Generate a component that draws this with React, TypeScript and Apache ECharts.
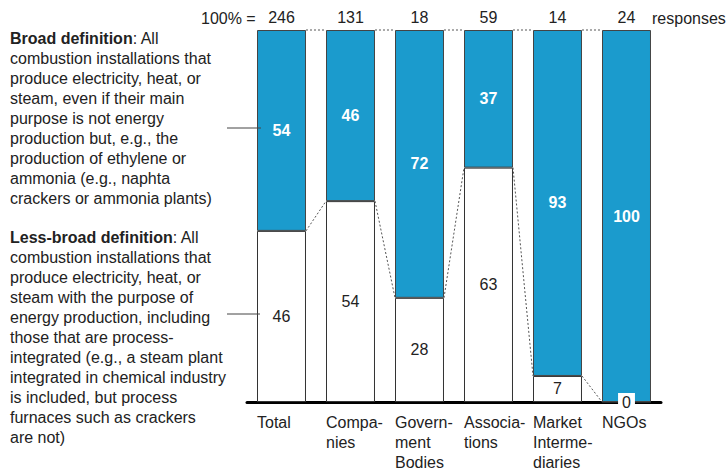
import React, { useEffect, useRef } from "react";
import * as echarts from "echarts";

const categories = ["Total", "Compa-\nnies", "Govern-\nment\nBodies", "Associa-\ntions", "Market\nInterme-\ndiaries", "NGOs"];
const responses = ["246", "131", "18", "59", "14", "24"];
const lessBroad = [46, 54, 28, 63, 7, 0];
const broad = [54, 46, 72, 37, 93, 100];

const FONT = "'Liberation Sans', Arial, Helvetica, sans-serif";
const BLUE = "#1b9bcd";
const BAR_RATIO = 0.71;
const FS = 16;

const broadText = [
  "{b|Broad definition}: All",
  "combustion installations that",
  "produce electricity, heat, or",
  "steam, even if their main",
  "purpose is not energy",
  "production but, e.g., the",
  "production of ethylene or",
  "ammonia (e.g., naphta",
  "crackers or ammonia plants)",
].join("\n");

const lessText = [
  "{b|Less-broad definition}: All",
  "combustion installations that",
  "produce electricity, heat, or",
  "steam with the purpose of",
  "energy production, including",
  "those that are process-",
  "integrated (e.g., a steam plant",
  "integrated in chemical industry",
  "is included, but process",
  "furnaces such as crackers",
  "are not)",
].join("\n");

export default function App() {
  const ref = useRef<HTMLDivElement>(null);
  useEffect(() => {
    const chart = echarts.init(ref.current!, undefined, { renderer: "svg" });

    const connectors: number[][] = [];
    for (let i = 0; i < categories.length - 1; i++) {
      connectors.push([i, 100, 100]);
      connectors.push([i, lessBroad[i], lessBroad[i + 1]]);
    }

    const textStyleBase = { fontFamily: FONT, fontSize: FS, fill: "#222", lineHeight: 20 };
    const boldRich = { b: { fontWeight: "bold", fontSize: FS, fontFamily: FONT, fill: "#222", lineHeight: 20 } };

    chart.setOption({
      animation: false,
      textStyle: { fontFamily: FONT },
      grid: { left: 247, right: 66, top: 30, bottom: 72 },
      xAxis: [
        {
          type: "category",
          data: categories,
          axisLine: { lineStyle: { color: "#000", width: 3 } },
          axisTick: { show: false },
          axisLabel: {
            interval: 0,
            margin: 10,
            fontFamily: FONT,
            fontSize: FS,
            color: "#222",
            lineHeight: 20,
            formatter: (v: string) => v.split("\n").map((s) => "{a|" + s + "}").join("\n"),
            rich: { a: { width: 49, align: "left", fontSize: FS, lineHeight: 20, color: "#222", fontFamily: FONT } },
          },
        },
        {
          type: "category",
          position: "top",
          data: responses,
          axisLine: { show: false },
          axisTick: { show: false },
          axisLabel: { interval: 0, margin: 5, fontFamily: FONT, fontSize: FS, color: "#222" },
        },
      ],
      yAxis: { type: "value", min: 0, max: 100, show: false, splitLine: { show: false } },
      series: [
        {
          type: "bar",
          stack: "s",
          barCategoryGap: "29%",
          data: lessBroad.map((v, i) =>
            i === lessBroad.length - 1
              ? { value: v, label: { backgroundColor: "#fff", padding: [2, 4, 0, 4] } }
              : v
          ),
          itemStyle: { color: "#fff", borderColor: "#333", borderWidth: 1 },
          label: { show: true, position: "inside", color: "#222", fontSize: FS, fontFamily: FONT },
        },
        {
          type: "bar",
          stack: "s",
          barCategoryGap: "29%",
          data: broad,
          itemStyle: { color: BLUE, borderColor: "#444", borderWidth: 1 },
          label: { show: true, position: "inside", color: "#fff", fontSize: FS, fontWeight: "bold", fontFamily: FONT },
        },
        {
          type: "custom",
          data: connectors,
          z: 5,
          renderItem: (params: any, api: any) => {
            const i = api.value(0);
            const p1 = api.coord([i, api.value(1)]);
            const p2 = api.coord([i + 1, api.value(2)]);
            const hw = (api.size([1, 0])[0] * BAR_RATIO) / 2;
            return {
              type: "line",
              shape: { x1: p1[0] + hw, y1: p1[1], x2: p2[0] - hw, y2: p2[1] },
              style: { stroke: "#555", lineWidth: 1, lineDash: [2, 2] },
            };
          },
        },
      ],
      graphic: [
        { type: "text", x: 201, y: 18, style: { ...textStyleBase, text: "100% =", verticalAlign: "middle" } },
        { type: "text", x: 652, y: 18, style: { ...textStyleBase, text: "responses", verticalAlign: "middle" } },
        { type: "text", x: 10, y: 28, style: { ...textStyleBase, text: broadText, rich: boldRich } },
        { type: "text", x: 10, y: 227, style: { ...textStyleBase, text: lessText, rich: boldRich } },
        { type: "line", shape: { x1: 227, y1: 128, x2: 261, y2: 128 }, style: { stroke: "#444", lineWidth: 1 }, z: 10 },
        { type: "line", shape: { x1: 227, y1: 314, x2: 260, y2: 314 }, style: { stroke: "#444", lineWidth: 1 }, z: 10 },
      ],
    });
    return () => chart.dispose();
  }, []);
  return <div ref={ref} style={{ position: "absolute", left: 0, top: 0, width: 727, height: 474 }} />;
}
